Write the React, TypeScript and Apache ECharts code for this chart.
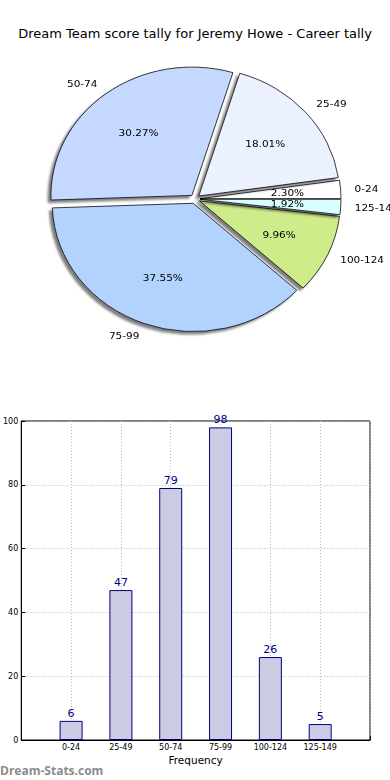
import React, { useEffect, useRef } from "react";
import * as echarts from "echarts";

const categories = ["0-24", "25-49", "50-74", "75-99", "100-124", "125-149"];
const counts = [6, 47, 79, 98, 26, 5];
const sliceColors = ["#ffffff", "#ebf1ff", "#c5d8ff", "#b3d3ff", "#cfec8a", "#d8ffff"];
const yTicks = { min: 0, max: 100, interval: 20 };
const titleText = "Dream Team score tally for Jeremy Howe - Career tally";
const xAxisTitle = "Frequency";
const watermark = "Dream-Stats.com";

const FONT = "DejaVu Sans";
const PIE_SCALE_Y = 0.91;

export default function App() {
  const pieRef = useRef<HTMLDivElement>(null);
  const barRef = useRef<HTMLDivElement>(null);
  useEffect(() => {
    if (!pieRef.current || !barRef.current) return;
    const pie = echarts.init(pieRef.current, undefined, { renderer: "svg" });
    const bar = echarts.init(barRef.current, undefined, { renderer: "svg" });
    const total = counts.reduce((a, b) => a + b, 0);
    const R = 141;
    const cy = 199 / PIE_SCALE_Y;
    pie.setOption({
      animation: false,
      textStyle: { fontFamily: FONT },
      series: [
        {
          type: "pie",
          center: [195, cy],
          radius: [0, R],
          startAngle: 0,
          clockwise: false,
          selectedMode: "multiple",
          selectedOffset: 5,
          avoidLabelOverlap: true,
          data: categories.map((c, i) => ({
            name: c,
            value: counts[i],
            selected: true,
            itemStyle: { color: sliceColors[i] },
          })),
          itemStyle: {
            borderColor: "#000",
            borderWidth: 0.8,
            shadowColor: "rgba(0,0,0,0.5)",
            shadowBlur: 2,
            shadowOffsetX: -3,
            shadowOffsetY: 3,
          },
          label: {
            show: true,
            position: "outside",
            formatter: "{b}",
            fontFamily: FONT,
            fontSize: 10.5,
            color: "#000",
            overflow: "none",
            distanceToLabelLine: 0,
          },
          labelLine: { show: false, length: 14, length2: 0 },
          emphasis: { disabled: true },
        },
        {
          type: "pie",
          center: [195, cy],
          radius: [0, R * 1.2],
          startAngle: 0,
          clockwise: false,
          selectedMode: "multiple",
          selectedOffset: 5,
          z: 3,
          data: categories.map((c, i) => ({
            name: c,
            value: counts[i],
            selected: true,
          })),
          itemStyle: { color: "rgba(0,0,0,0)", borderWidth: 0 },
          label: {
            show: true,
            position: "inside",
            formatter: (p: any) => ((p.value / total) * 100).toFixed(2) + "%",
            fontFamily: FONT,
            fontSize: 10.5,
            color: "#000",
          },
          labelLine: { show: false },
          emphasis: { disabled: true },
          silent: true,
        },
      ],
    });
    bar.setOption({
      animation: false,
      textStyle: { fontFamily: FONT },
      title: {
        text: titleText,
        left: "center",
        top: 22,
        textStyle: { fontFamily: FONT, fontSize: 13, fontWeight: "normal", color: "#000" },
      },
      graphic: [
        {
          type: "text",
          left: 0,
          top: 764,
          style: { text: watermark, fontFamily: "Open Sans", fontSize: 12, fontWeight: "bold", fill: "#8c8c8c" },
        },
      ],
      grid: {
        left: 20,
        right: 20,
        top: 421,
        bottom: 40,
        show: true,
        borderColor: "#000",
        borderWidth: 1,
        backgroundColor: "transparent",
      },
      xAxis: {
        type: "value",
        min: -1,
        max: 6,
        interval: 1,
        name: xAxisTitle,
        nameLocation: "middle",
        nameGap: 14,
        nameTextStyle: { fontFamily: FONT, fontSize: 10.5, color: "#000" },
        axisLine: { show: true, onZero: false, lineStyle: { color: "#000" } },
        axisTick: { show: true, inside: true, length: 4, lineStyle: { color: "#000" } },
        axisLabel: {
          fontFamily: FONT,
          fontSize: 8,
          color: "#000",
          margin: 3,
          formatter: (v: number) => categories[v] ?? "",
        },
        splitLine: { show: true, lineStyle: { color: "#b8b8b8", type: [1, 2] } },
      },
      yAxis: {
        type: "value",
        min: yTicks.min,
        max: yTicks.max,
        interval: yTicks.interval,
        axisLine: { show: true, onZero: false, lineStyle: { color: "#000" } },
        axisTick: { show: true, inside: true, length: 4, lineStyle: { color: "#000" } },
        axisLabel: { fontFamily: FONT, fontSize: 8, color: "#000", margin: 3 },
        splitLine: { show: true, lineStyle: { color: "#b8b8b8", type: [1, 2] } },
      },
      series: [
        {
          type: "bar",
          data: counts.map((v, i) => [i, v]),
          barWidth: 23,
          itemStyle: { color: "#cbcce3", borderColor: "#00007f", borderWidth: 1 },
          label: {
            show: true,
            position: "top",
            distance: 2,
            fontFamily: FONT,
            fontSize: 11,
            color: "#00008b",
          },
        },
      ],
    });
    return () => {
      pie.dispose();
      bar.dispose();
    };
  }, []);
  return (
    <div style={{ position: "fixed", left: 0, top: 0, width: 390, height: 780, background: "#fff", overflow: "hidden" }}>
      <div ref={barRef} style={{ position: "absolute", left: 0, top: 0, width: 390, height: 780 }} />
      <div
        ref={pieRef}
        style={{
          position: "absolute",
          left: 0,
          top: 0,
          width: 390,
          height: 420,
          transform: `scaleY(${PIE_SCALE_Y})`,
          transformOrigin: "0 0",
        }}
      />
    </div>
  );
}
